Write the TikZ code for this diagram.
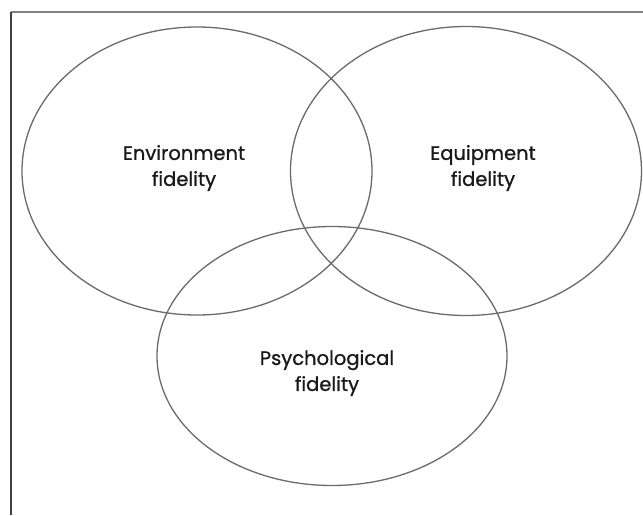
\documentclass[tikz,border=0pt]{standalone}
\usepackage{fontspec}
\setmainfont{Poppins}[FakeBold=0.9]
\usetikzlibrary{shapes.geometric}
\begin{document}
\begin{tikzpicture}[x=1pt,y=-1pt,
  ring/.style={draw=black!58,line width=1.3pt},
  lbl/.style={align=center,font=\fontsize{19.5}{26}\selectfont,text=black!90,inner sep=0pt}]
\useasboundingbox (0,0) rectangle (643,515);
\fill[white] (0,0) rectangle (643,515);
\draw[black!50,line width=1.6pt] (643,12) -- (11,12);
\draw[black!75,line width=1.4pt] (11,12) -- (11,515);
\node[ring,ellipse,minimum width=350,minimum height=288,inner sep=0pt] (env) at (197,171) {};
\node[ring,ellipse,minimum width=351,minimum height=289,inner sep=0pt] (equ) at (466,171) {};
\node[ring,ellipse,minimum width=350,minimum height=259,inner sep=0pt] (psy) at (332,356) {};
\node[lbl] (envt) at (184,168) {Environment\\fidelity};
\node[lbl] (equt) at (483,168) {Equipment\\fidelity};
\node[lbl] (psyt) at (327,373) {Psychological\\fidelity};
\end{tikzpicture}
\end{document}
